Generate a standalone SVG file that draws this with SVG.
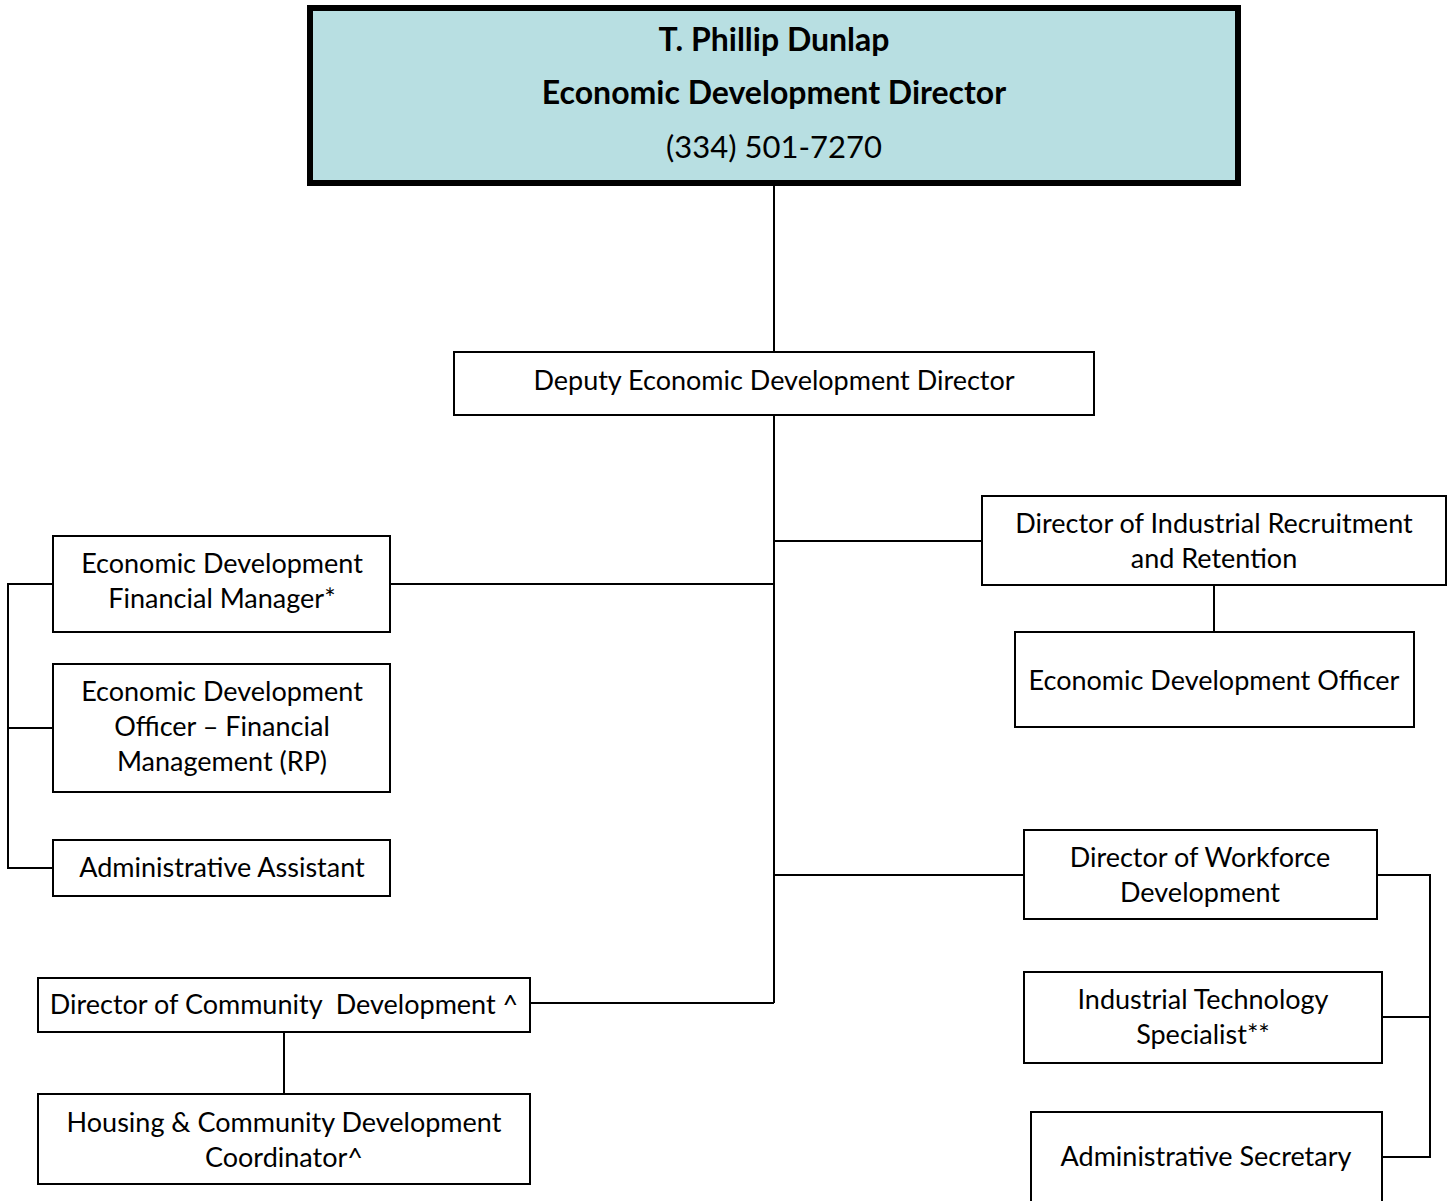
<svg xmlns="http://www.w3.org/2000/svg" width="1455" height="1201" viewBox="0 0 1455 1201">
<style>
.box{fill:#fff;stroke:#000;stroke-width:2}
.top{fill:#B8DFE2;stroke:#000;stroke-width:6}
.t{font-family:Lato,"Open Sans","Liberation Sans",sans-serif;font-size:27px;text-anchor:middle;fill:#000}
.b{font-weight:bold;font-size:32px}
.p{font-size:31px}
.c{fill:none;stroke:#000;stroke-width:2}
</style>
<rect width="1455" height="1201" fill="#fff"/>
<g id="connectors">
<path class="c" d="M774 186V352"/>
<path class="c" d="M774 415V1003"/>
<path class="c" d="M774 541H982"/>
<path class="c" d="M390 584H774"/>
<path class="c" d="M774 875H1024"/>
<path class="c" d="M530 1003H774"/>
<path class="c" d="M1214 585V632"/>
<path class="c" d="M284 1032V1094"/>
<path class="c" d="M56 584H8V868H53M8 728H53"/>
<path class="c" d="M1377 875H1430V1157H1382M1382 1017H1430"/>
</g>
<g id="director">
<rect class="top" x="310" y="8" width="928" height="175"/>
<text class="t b" x="774" y="51">T. Phillip Dunlap</text>
<text class="t b" x="774" y="104">Economic Development Director</text>
<text class="t p" x="774" y="158">(334) 501-7270</text>
</g>
<g id="deputy">
<rect class="box" x="454" y="352" width="640" height="63"/>
<text class="t" x="774" y="390">Deputy Economic Development Director</text>
</g>
<g id="industrial">
<rect class="box" x="982" y="496" width="464" height="89"/>
<text class="t" x="1214" y="533">Director of Industrial Recruitment</text>
<text class="t" x="1214" y="568">and Retention</text>
</g>
<g id="edo">
<rect class="box" x="1015" y="632" width="399" height="95"/>
<text class="t" x="1214" y="690">Economic Development Officer</text>
</g>
<g id="fin-manager">
<rect class="box" x="53" y="536" width="337" height="96"/>
<text class="t" x="222" y="573">Economic Development</text>
<text class="t" x="222" y="608">Financial Manager*</text>
</g>
<g id="edo-fm">
<rect class="box" x="53" y="664" width="337" height="128"/>
<text class="t" x="222" y="701">Economic Development</text>
<text class="t" x="222" y="736">Officer – Financial</text>
<text class="t" x="222" y="771">Management (RP)</text>
</g>
<g id="admin-assistant">
<rect class="box" x="53" y="840" width="337" height="56"/>
<text class="t" x="222" y="877">Administrative Assistant</text>
</g>
<g id="workforce">
<rect class="box" x="1024" y="830" width="353" height="89"/>
<text class="t" x="1200" y="867">Director of Workforce</text>
<text class="t" x="1200" y="902">Development</text>
</g>
<g id="tech">
<rect class="box" x="1024" y="972" width="358" height="91"/>
<text class="t" x="1203" y="1009">Industrial Technology</text>
<text class="t" x="1203" y="1044">Specialist**</text>
</g>
<g id="admin-secretary">
<rect class="box" x="1031" y="1112" width="351" height="100"/>
<text class="t" x="1206" y="1166">Administrative Secretary</text>
</g>
<g id="community">
<rect class="box" x="38" y="978" width="492" height="54"/>
<text class="t" x="284" y="1014" xml:space="preserve">Director of Community  Development ^</text>
</g>
<g id="housing">
<rect class="box" x="38" y="1094" width="492" height="90"/>
<text class="t" x="284" y="1132">Housing &amp; Community Development</text>
<text class="t" x="284" y="1167">Coordinator^</text>
</g>
</svg>
